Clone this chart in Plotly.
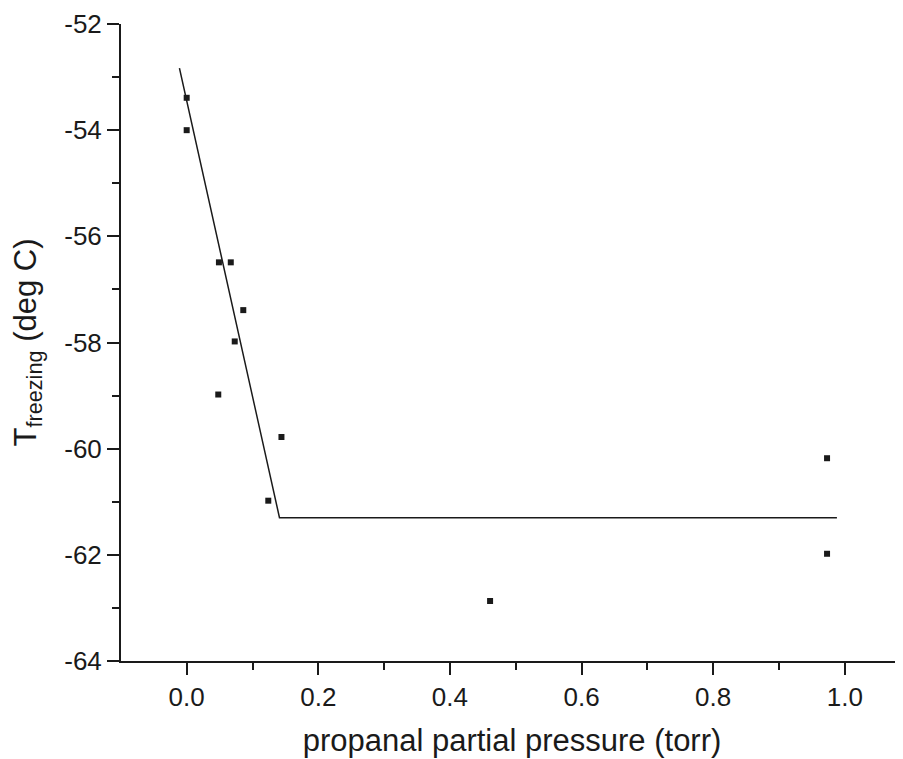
import plotly.graph_objects as go

# Measured data points
pressure = [0.0, 0.0, 0.049, 0.067, 0.086, 0.073, 0.048, 0.144, 0.124, 0.973, 0.973, 0.461]
t_freezing = [-53.39, -54.0, -56.49, -56.49, -57.39, -57.98, -58.98, -59.78, -60.98, -60.18, -61.98, -62.87]

# Fitted piecewise line
fit_x = [-0.011, 0.141, 0.988]
fit_y = [-52.83, -61.30, -61.30]

x_ticks = [0.0, 0.2, 0.4, 0.6, 0.8, 1.0]
x_tick_labels = ["0.0", "0.2", "0.4", "0.6", "0.8", "1.0"]
y_ticks = [-64, -62, -60, -58, -56, -54, -52]
y_tick_labels = ["-64", "-62", "-60", "-58", "-56", "-54", "-52"]

FONT = "Liberation Sans, Arial, sans-serif"
INK = "#1a1a1a"

fig = go.Figure()
fig.add_trace(go.Scatter(x=fit_x, y=fit_y, mode="lines",
                         line=dict(color=INK, width=1.5), showlegend=False, cliponaxis=False))
fig.add_trace(go.Scatter(x=pressure, y=t_freezing, mode="markers",
                         marker=dict(symbol="square", size=6, color=INK), showlegend=False,
                         cliponaxis=False))

fig.update_layout(
    width=895, height=751,
    margin=dict(l=113, r=0, t=16, b=98),
    paper_bgcolor="white", plot_bgcolor="white",
    font=dict(family=FONT, color=INK, size=26),
    xaxis=dict(
        range=[-0.0998, 1.0884], tickvals=x_ticks, ticktext=x_tick_labels,
        automargin=False,
        showgrid=False, zeroline=False, showline=True, linecolor=INK, linewidth=2,
        ticks="outside", ticklen=12, tickwidth=2, tickcolor=INK,
        minor=dict(dtick=0.1, tick0=0.1, ticks="outside", ticklen=7, tickwidth=2, tickcolor=INK),
        tickfont=dict(size=26, family=FONT, color=INK),
        title=dict(text="propanal partial pressure (torr)", font=dict(size=31, family=FONT, color=INK), standoff=18),
    ),
    yaxis=dict(
        range=[-64, -52], tickvals=y_ticks, ticktext=y_tick_labels,
        automargin=False,
        showgrid=False, zeroline=False, showline=True, linecolor=INK, linewidth=2,
        ticks="outside", ticklen=12, tickwidth=2, tickcolor=INK,
        minor=dict(dtick=1, tick0=-63, ticks="outside", ticklen=7, tickwidth=2, tickcolor=INK),
        tickfont=dict(size=26, family=FONT, color=INK),
        title=dict(text="T<sub>freezing</sub> (deg C)", font=dict(size=31, family=FONT, color=INK), standoff=26),
    ),
)

fig.write_html("out.html")
